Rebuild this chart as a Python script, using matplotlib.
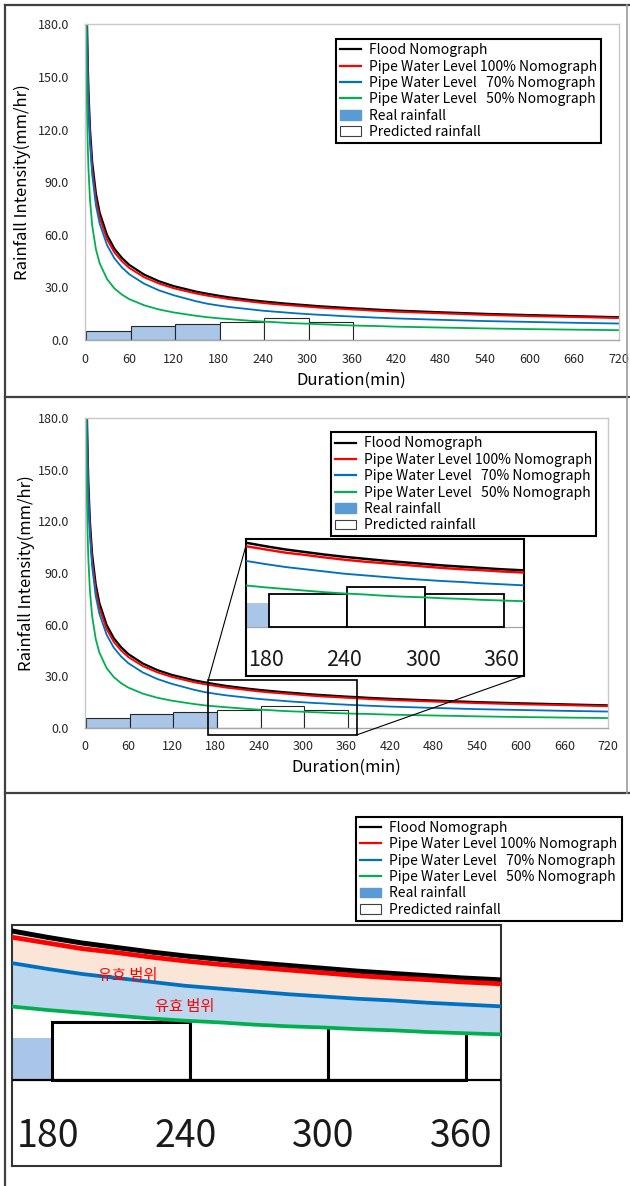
import numpy as np
import matplotlib
matplotlib.use("Agg")
import matplotlib.pyplot as plt
from matplotlib.lines import Line2D
from matplotlib.patches import Patch, Rectangle, ConnectionPatch
from matplotlib.ticker import FormatStrFormatter

plt.rcParams['font.family'] = ['Noto Sans CJK KR', 'DejaVu Sans']

# duration (min) vs rainfall intensity (mm/hr)
duration = [0.5, 1, 2, 3, 4, 5, 7, 10, 15, 20, 30, 40, 50, 60, 80, 100, 120,
            150, 165, 180, 195, 210, 225, 240, 255, 270, 285, 300, 315, 330,
            345, 360, 375, 390, 420, 480, 540, 600, 660, 720]
flood_nomo = [426.5, 305.8, 219.3, 180.5, 157.2, 141.3, 120.2, 101.3, 83.4, 72.6,
              59.8, 52.0, 46.8, 42.8, 37.3, 33.5, 30.7, 27.6, 26.4, 25.3,
              24.3, 23.5, 22.7, 22.0, 21.4, 20.8, 20.3, 19.8, 19.3, 18.9,
              18.5, 18.1, 17.8, 17.4, 16.8, 15.8, 14.9, 14.2, 13.6, 13.0]
pipe100_nomo = [409.4, 293.6, 210.5, 173.3, 150.9, 135.6, 115.4, 97.2, 80.1, 69.7,
                57.4, 49.9, 44.9, 41.1, 35.8, 32.2, 29.5, 26.5, 25.3, 24.3,
                23.3, 22.6, 21.8, 21.1, 20.5, 20.0, 19.5, 19.0, 18.5, 18.1,
                17.8, 17.4, 17.1, 16.7, 16.1, 15.2, 14.3, 13.6, 13.1, 12.5]
pipe70_nomo = [405.2, 290.5, 208.3, 170.6, 148.6, 132.8, 112.4, 94.2, 76.7, 66.4,
               54.1, 46.5, 41.4, 37.5, 32.1, 28.3, 25.5, 22.1, 20.7, 19.7,
               18.8, 18.1, 17.4, 16.7, 16.2, 15.7, 15.2, 14.8, 14.4, 14.1,
               13.7, 13.4, 13.1, 12.8, 12.3, 11.5, 10.8, 10.3, 9.8, 9.4]
pipe50_nomo = [364.0, 244.5, 164.3, 130.1, 110.3, 97.1, 80.0, 65.2, 51.7, 43.8,
               34.7, 29.4, 25.9, 23.3, 19.8, 17.4, 15.7, 13.8, 13.0, 12.4,
               11.9, 11.4, 10.9, 10.5, 10.2, 9.8, 9.5, 9.3, 9.0, 8.8,
               8.5, 8.3, 8.1, 8.0, 7.6, 7.1, 6.6, 6.2, 5.9, 5.6]

# hourly rainfall (mm/hr)
rain_start = [0, 60, 120, 180, 240, 300]
real_rain = [5.4, 8.1, 9.0]
pred_rain = [10.2, 12.4, 10.2]
# bar heights as they show up in the enlarged views
zoom_rain = [5.4, 8.1, 7.4, 10.2, 12.4, 10.2]

x_ticks = list(range(0, 721, 60))
y_ticks = [0, 30, 60, 90, 120, 150, 180]
zoom_ticks = [180, 240, 300, 360]
zoom_note = "유효 범위"
legend_labels = ["Flood Nomograph",
                 "Pipe Water Level 100% Nomograph",
                 "Pipe Water Level   70% Nomograph",
                 "Pipe Water Level   50% Nomograph",
                 "Real rainfall",
                 "Predicted rainfall"]

W, H = 630, 1186
BLACK, RED, BLUE, GREEN = '#000000', '#FF0000', '#0070C0', '#00B050'
RAIN_BLUE = '#A9C6E8'
BAR_SHIFT = 2              # bars sit a bit right of the hour marks
ZOOM_X = (164.5, 377.5)
ZOOM_Y = (-15.3, 27.5)
ZOOM_RECT = (170, -4.2, 374.3, 27.8)   # x0, y0, x1, y1 on the main chart

curves = [(flood_nomo, BLACK), (pipe100_nomo, RED),
          (pipe70_nomo, BLUE), (pipe50_nomo, GREEN)]


def px_box(l, t, r, b):
    return [l / W, 1 - b / H, (r - l) / W, (b - t) / H]


def fig_line(fig, x0, y0, x1, y1, **kw):
    fig.add_artist(Line2D([x0 / W, x1 / W], [1 - y0 / H, 1 - y1 / H],
                          transform=fig.transFigure, **kw))


def make_legend(owner, fig, left, top):
    handles = [Line2D([], [], color=c, lw=1.6) for _, c in curves]
    handles.append(Patch(facecolor='#5B9BD5', edgecolor='#5B9BD5'))
    handles.append(Patch(facecolor='white', edgecolor='#404040', lw=0.8))
    leg = owner.legend(handles, legend_labels, loc='upper left',
                       bbox_to_anchor=(left / W, 1 - top / H),
                       bbox_transform=fig.transFigure, borderaxespad=0,
                       fontsize=10, frameon=True, fancybox=False,
                       framealpha=1, edgecolor='black', borderpad=0.3,
                       handlelength=1.5, handleheight=0.7,
                       handletextpad=0.6, labelspacing=0.17)
    leg.get_frame().set_linewidth(1.5)
    leg.set_zorder(10)
    return leg


def draw_main(fig, ax, leg_pos, ylab_x):
    starts = np.array(rain_start) + BAR_SHIFT
    ax.bar(starts[:3], real_rain, width=60, align='edge', color=RAIN_BLUE,
           edgecolor='#262626', lw=0.8, zorder=1)
    ax.bar(starts[3:], pred_rain, width=60, align='edge', color='white',
           edgecolor='#262626', lw=0.8, zorder=1)
    widths = [1.6, 1.4, 1.3, 1.3]
    for (vals, c), w in zip(curves, widths):
        ax.plot(duration, vals, color=c, lw=w, zorder=2)

    ax.set_xlim(0, 720)
    ax.set_ylim(0, 180)
    ax.set_xticks(x_ticks)
    ax.set_yticks(y_ticks)
    ax.yaxis.set_major_formatter(FormatStrFormatter('%.1f'))
    ax.tick_params(axis='both', length=0, labelsize=9, labelcolor='#262626')
    ax.tick_params(axis='y', pad=11.5)
    ax.tick_params(axis='x', pad=9)
    for s in ax.spines.values():
        s.set_color('#C8C8C8')
        s.set_linewidth(1)
    ax.spines['bottom'].set_color('#A6A6A6')

    ax.set_xlabel('Duration(min)', fontsize=12)
    ax.xaxis.set_label_coords(0.5, -0.127)
    ax.xaxis.label.set_va('center')
    ax.set_ylabel('Rainfall Intensity(mm/hr)', fontsize=12)
    ax.yaxis.set_label_coords(ylab_x, 0.5)
    ax.yaxis.label.set_va('center')

    make_legend(ax, fig, *leg_pos)


def draw_zoom(ax, line_w, bar_w, label_size, label_y, filled):
    starts = np.array(rain_start) + BAR_SHIFT
    ax.bar(starts[:3], zoom_rain[:3], width=60, align='edge', color=RAIN_BLUE,
           edgecolor=RAIN_BLUE, lw=0, zorder=1)
    ax.bar(starts[3:], zoom_rain[3:], width=60, align='edge', color='white',
           edgecolor='black', lw=bar_w, zorder=1)
    if filled:
        ax.fill_between(duration, pipe100_nomo, pipe70_nomo, color='#FBE5D6',
                        lw=0, zorder=2)
        ax.fill_between(duration, pipe70_nomo, pipe50_nomo, color='#BDD7EE',
                        lw=0, zorder=2)
    for (vals, c), k in zip(curves, [1.0, 0.95, 0.75, 0.75]):
        ax.plot(duration, vals, color=c, lw=line_w * k, zorder=3,
                solid_capstyle='butt')
    if filled:
        ax.axhline(0, color='black', lw=1.6, zorder=4)
    else:
        ax.axhline(0, color='#A6A6A6', lw=0.9, zorder=0.5)
    for t in zoom_ticks:
        ax.text(t, label_y, str(t), ha='center', va='center',
                fontsize=label_size, color='#1A1A1A')
    ax.set_xlim(*ZOOM_X)
    ax.set_ylim(*ZOOM_Y)
    ax.set_xticks([])
    ax.set_yticks([])


fig = plt.figure(figsize=(W / 100, H / 100), dpi=100)
fig.patch.set_facecolor('white')

# panel 1
ax1 = fig.add_axes(px_box(84.8, 24.3, 618.7, 340))
draw_main(fig, ax1, (335.7, 39), -0.116)

# panel 2 with enlarged inset
ax2 = fig.add_axes(px_box(84.8, 418.3, 607.9, 727.7))
draw_main(fig, ax2, (330.7, 432.3), -0.112)
x0, y0, x1, y1 = ZOOM_RECT
ax2.add_patch(Rectangle((x0, y0), x1 - x0, y1 - y0, fill=False,
                        edgecolor='black', lw=1.2, clip_on=False, zorder=5))

ax_in = fig.add_axes(px_box(245.7, 539.3, 524.0, 675.7))
draw_zoom(ax_in, 1.8, 1.3, 15.5, -10.5, filled=False)
for s in ax_in.spines.values():
    s.set_color('black')
    s.set_linewidth(1.5)
for a_xy, b_xy in [((0, 0.946), (x0, y1)), ((1, 0), (x1, y0))]:
    fig.add_artist(ConnectionPatch(xyA=a_xy, coordsA=ax_in.transAxes,
                                   xyB=b_xy, coordsB=ax2.transData,
                                   color='black', lw=0.8))

# panel 3: enlarged view with the valid range shaded
ax3 = fig.add_axes(px_box(12, 925, 501.4, 1166))
draw_zoom(ax3, 3.6, 2.2, 27, -10.0, filled=True)
for s in ax3.spines.values():
    s.set_color('#333333')
    s.set_linewidth(1.5)
ax3.text(215, 18.6, zoom_note, color=RED, fontsize=11, ha='center',
         va='center', zorder=6)
ax3.text(239.5, 13.1, zoom_note, color=RED, fontsize=11, ha='center',
         va='center', zorder=6)
make_legend(fig, fig, 356, 816.7)

# outer frame and panel dividers
frame = dict(color='#404040', lw=1.6)
fig_line(fig, 5, 5, 630, 5, **frame)
fig_line(fig, 5, 5, 5, 1186, **frame)
fig_line(fig, 5, 397.5, 630, 397.5, **frame)
fig_line(fig, 5, 792.5, 630, 792.5, **frame)
fig_line(fig, 627, 5, 627, 792.5, color='#9A9A9A', lw=1.2)

fig.savefig('out.png', dpi=100, facecolor='white')
